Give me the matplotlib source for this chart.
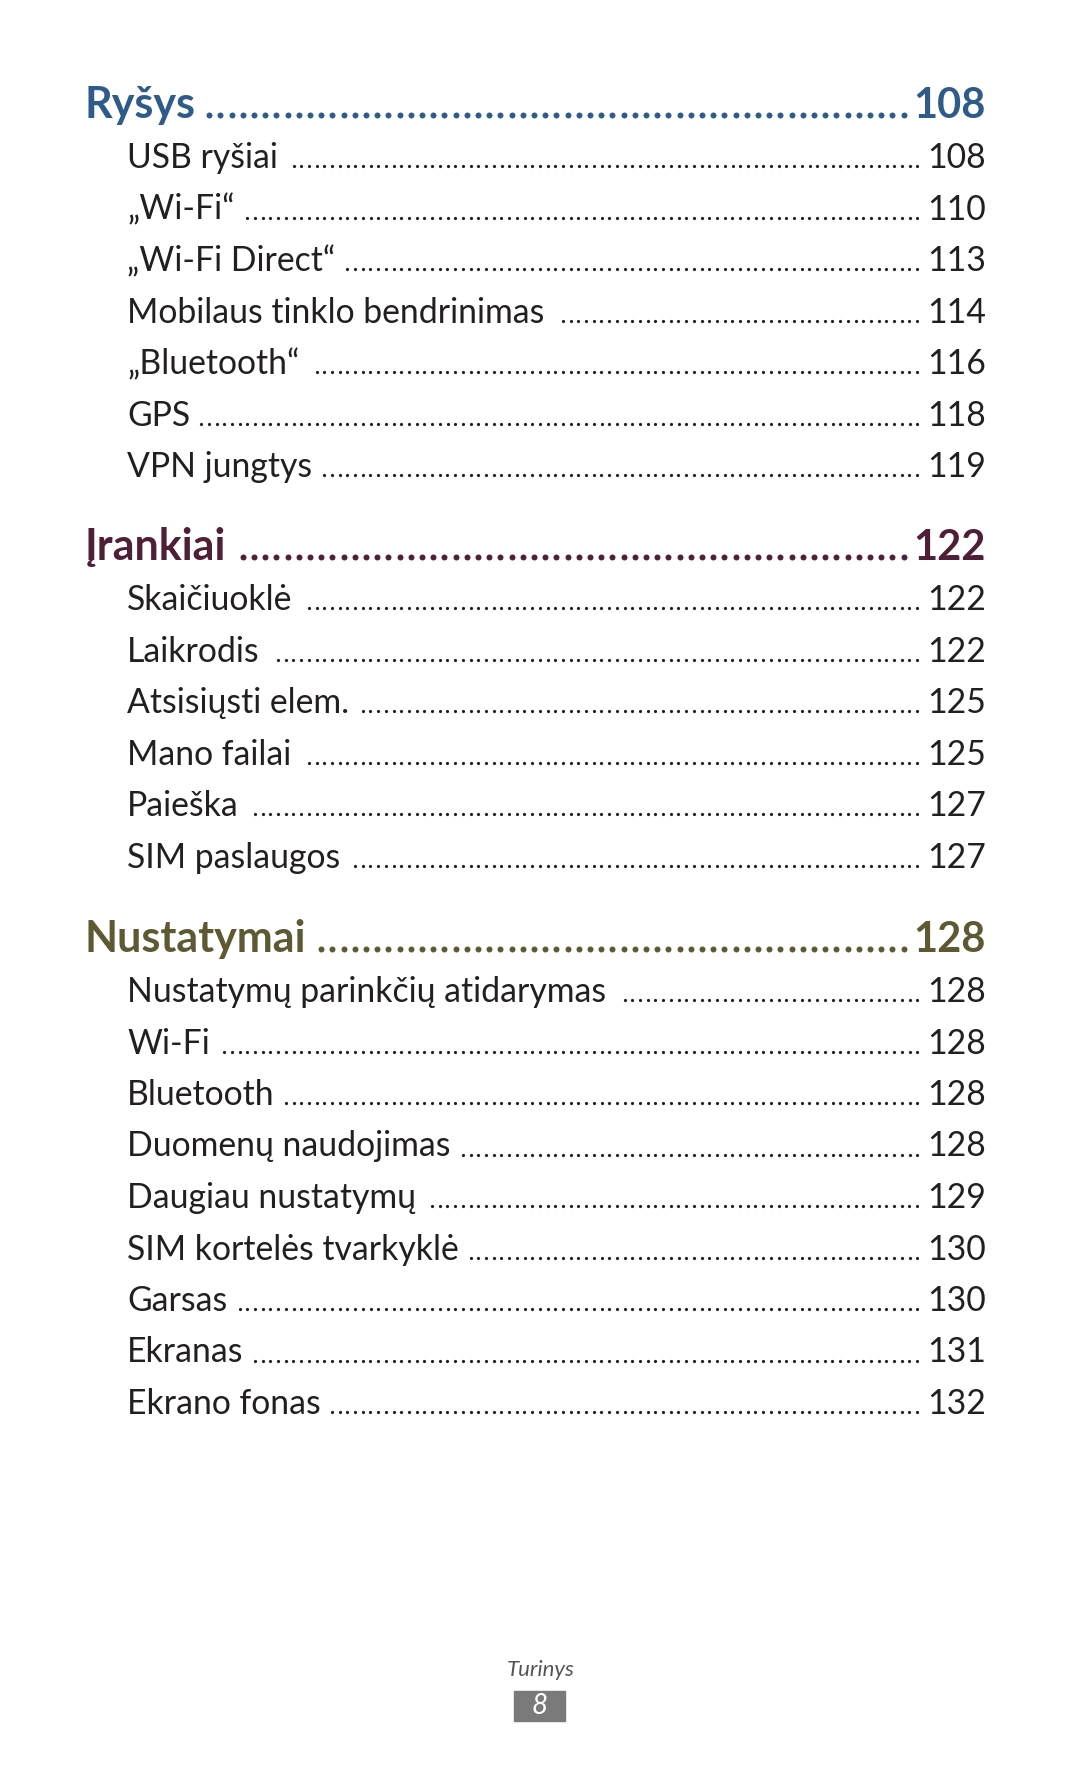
import matplotlib
matplotlib.use("Agg")
import matplotlib.pyplot as plt

# turinys (table of contents) page data
sections = ["Ryšys", "Įrankiai", "Nustatymai"]
section_pages = ["108", "122", "128"]
section_colors = ["#2f5b8a", "#4e1f37", "#5d5933"]

rysys_items = ["USB ryšiai", "„Wi-Fi“", "„Wi-Fi Direct“", "Mobilaus tinklo bendrinimas",
               "„Bluetooth“", "GPS", "VPN jungtys"]
rysys_pages = ["108", "110", "113", "114", "116", "118", "119"]

irankiai_items = ["Skaičiuoklė", "Laikrodis", "Atsisiųsti elem.", "Mano failai",
                  "Paieška", "SIM paslaugos"]
irankiai_pages = ["122", "122", "125", "125", "127", "127"]

nustatymai_items = ["Nustatymų parinkčių atidarymas", "Wi-Fi", "Bluetooth",
                    "Duomenų naudojimas", "Daugiau nustatymų", "SIM kortelės tvarkyklė",
                    "Garsas", "Ekranas", "Ekrano fonas"]
nustatymai_pages = ["128", "128", "128", "128", "129", "130", "130", "131", "132"]

footer_label = "Turinys"
page_number = "8"

font = ["Lato", "DejaVu Sans"]
text_color = "#231f20"

fig = plt.figure(figsize=(10.8, 17.71), dpi=100)
ax = fig.add_axes([0, 0, 1, 1])
ax.set_xlim(0, 1080)
ax.set_ylim(1771, 0)
ax.axis("off")
renderer = fig.canvas.get_renderer()


def right_edge(t):
    bb = t.get_window_extent(renderer=renderer)
    return ax.transData.inverted().transform((bb.x1, bb.y0))[0]


def left_edge(t):
    bb = t.get_window_extent(renderer=renderer)
    return ax.transData.inverted().transform((bb.x0, bb.y0))[0]


def leader(x_start, x_end, y, step, size, color):
    xs = []
    x = x_end
    while x > x_start:
        xs.append(x)
        x -= step
    ax.plot(xs, [y] * len(xs), "o", ms=size, color=color, mec="none")


def toc_line(label, page, y, heading=False, color=text_color):
    if heading:
        t = ax.text(85, y, label, fontsize=31, fontweight="bold", family=font,
                    color=color, va="baseline")
        p = ax.text(986, y, page, fontsize=30, fontweight="bold", family=font,
                    color=color, va="baseline", ha="right")
        leader(right_edge(t) + 6, left_edge(p) - 10, y - 3, 11.2, 4.3, color)
    else:
        t = ax.text(127, y, label, fontsize=24.3, family=font,
                    color=color, va="baseline")
        p = ax.text(986, y, page, fontsize=24.3, family=font,
                    color=color, va="baseline", ha="right")
        leader(right_edge(t) + 11, left_edge(p) - 10, y - 1.6, 7.7, 2.3, color)


blocks = [(rysys_items, rysys_pages, 118), (irankiai_items, irankiai_pages, 560),
          (nustatymai_items, nustatymai_pages, 952)]
for i, (items, pages, y0) in enumerate(blocks):
    toc_line(sections[i], section_pages[i], y0, heading=True, color=section_colors[i])
    for j in range(len(items)):
        toc_line(items[j], pages[j], y0 + 50 + j * 51.5)

# footer
ax.text(541, 1670, footer_label, fontsize=16, style="italic", family=font,
        color="#555555", ha="center", va="center")
ax.add_patch(plt.Rectangle((514, 1691), 51, 30, color="#7a7a7a"))
ax.text(539.5, 1706, page_number, fontsize=20, style="italic", family=font,
        color="white", ha="center", va="center")

fig.savefig("out.png", dpi=100)
